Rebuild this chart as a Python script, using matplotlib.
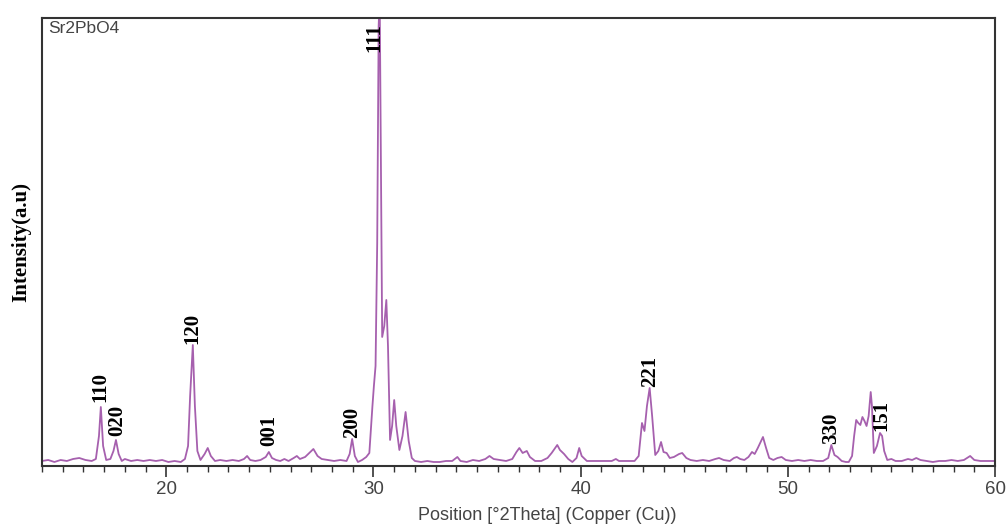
import matplotlib.pyplot as plt
from matplotlib.ticker import MultipleLocator

# Patrón XRD (2theta en grados, intensidad en unidades arbitrarias)
two_theta = [
    14.0, 14.3, 14.6, 14.9, 15.2, 15.5, 15.8, 16.1, 16.4, 16.6, 16.75, 16.84, 16.95, 17.1,
    17.3, 17.45, 17.57, 17.7, 17.85, 18.0, 18.3, 18.6, 18.9, 19.2, 19.5, 19.8, 20.1, 20.4,
    20.7, 20.9, 21.05, 21.15, 21.28, 21.38, 21.5, 21.65, 21.85, 22.0, 22.15, 22.35, 22.6,
    22.9, 23.2, 23.5, 23.75, 23.9, 24.05, 24.3, 24.55, 24.8, 24.95, 25.1, 25.3, 25.5, 25.7,
    25.9, 26.15, 26.3, 26.45, 26.7, 26.9, 27.1, 27.3, 27.5, 27.8, 28.1, 28.4, 28.7, 28.85,
    28.97, 29.1, 29.25, 29.45, 29.65, 29.8, 29.95, 30.02, 30.1, 30.18, 30.25, 30.3, 30.36,
    30.42, 30.52, 30.62, 30.7, 30.8, 30.9, 31.0, 31.1, 31.25, 31.4, 31.55, 31.7, 31.85,
    32.0, 32.3, 32.6, 32.9, 33.2, 33.5, 33.8, 34.05, 34.2, 34.5, 34.8, 35.1, 35.4, 35.6,
    35.8, 36.1, 36.4, 36.7, 36.9, 37.04, 37.2, 37.4, 37.55, 37.8, 38.1, 38.4, 38.6, 38.87,
    39.0, 39.2, 39.4, 39.6, 39.8, 39.93, 40.05, 40.3, 40.6, 40.9, 41.2, 41.5, 41.7, 41.85,
    42.1, 42.4, 42.6, 42.8, 42.96, 43.08, 43.2, 43.33, 43.45, 43.6, 43.75, 43.88, 44.0,
    44.15, 44.3, 44.5, 44.75, 44.9, 45.1, 45.3, 45.6, 45.9, 46.2, 46.5, 46.68, 46.9, 47.2,
    47.4, 47.54, 47.7, 47.9, 48.1, 48.27, 48.4, 48.55, 48.8, 48.95, 49.1, 49.3, 49.5, 49.7,
    49.9, 50.2, 50.5, 50.8, 51.1, 51.4, 51.7, 51.95, 52.1, 52.25, 52.4, 52.6, 52.8, 52.94,
    53.1, 53.2, 53.3, 53.4, 53.5, 53.6, 53.7, 53.8, 53.9, 54.0, 54.06, 54.15, 54.3, 54.45,
    54.55, 54.65, 54.8, 55.0, 55.2, 55.5, 55.8, 56.0, 56.2, 56.4, 56.7, 57.0, 57.3, 57.6,
    57.9, 58.2, 58.5, 58.8, 59.0, 59.3, 59.6, 60.0,
]
intensity = [
    5, 6, 4, 6, 5, 7, 8, 6, 5, 7, 30, 59, 20, 6,
    7, 15, 26, 12, 5, 7, 5, 6, 5, 6, 5, 6, 4, 5,
    4, 7, 20, 70, 121, 60, 15, 6, 12, 18, 10, 5, 6,
    5, 6, 5, 7, 10, 6, 5, 6, 9, 14, 8, 6, 5, 7,
    5, 8, 10, 7, 9, 13, 17, 10, 7, 6, 5, 6, 5, 12,
    27, 10, 4, 6, 9, 13, 60, 80, 100, 223, 440, 470, 300,
    129, 140, 166, 120, 26, 40, 66, 40, 16, 30, 54, 25, 8,
    5, 4, 5, 4, 4, 5, 5, 9, 5, 4, 6, 5, 7, 10,
    7, 6, 5, 7, 14, 18, 13, 15, 9, 5, 5, 8, 13, 21,
    16, 12, 7, 4, 8, 18, 10, 5, 5, 5, 5, 5, 7, 5,
    5, 5, 5, 10, 43, 35, 60, 78, 50, 11, 15, 24, 14,
    13, 8, 9, 12, 13, 8, 6, 5, 6, 5, 7, 8, 6, 5,
    8, 9, 7, 6, 9, 14, 12, 18, 29, 18, 8, 6, 8, 9,
    6, 5, 6, 5, 6, 5, 5, 8, 21, 11, 9, 5, 4, 4,
    10, 30, 46, 43, 41, 49, 45, 40, 50, 74, 60, 13, 20, 33,
    30, 15, 6, 7, 5, 5, 7, 6, 8, 6, 5, 4, 5, 5,
    6, 5, 6, 10, 6, 5, 5, 5,
]

# Índices de Miller y posición de cada etiqueta
hkl_labels = ["110", "020", "120", "001", "200", "111", "221", "330", "151"]
hkl_x = [16.84, 17.62, 21.28, 24.95, 28.97, 30.05, 43.33, 52.1, 54.5]
hkl_y = [64, 30, 122, 20, 28, 414, 79, 22, 35]

fig = plt.figure(figsize=(10.07, 5.25), dpi=100)
ax = fig.add_axes([0.0417, 0.1124, 0.9464, 0.8533])

ax.plot(two_theta, intensity, color="#a660ae", lw=1.3)

for lab, x, y in zip(hkl_labels, hkl_x, hkl_y):
    ax.text(x, y, lab, rotation=90, ha="center", va="bottom",
            family="Liberation Serif", fontweight="bold", fontsize=15)

ax.text(0.006, 0.993, "Sr2PbO4", transform=ax.transAxes, ha="left", va="top",
        family="Liberation Sans", fontsize=12.5, color="#444444")

ax.set_xlim(14, 60)
ax.set_ylim(0, 448)
ax.xaxis.set_major_locator(MultipleLocator(10))
ax.xaxis.set_minor_locator(MultipleLocator(1))
ax.tick_params(axis="x", which="major", length=8, width=1.2, color="#333333",
               labelsize=13.5, labelcolor="#444444", pad=3)
ax.tick_params(axis="x", which="minor", length=4, width=1, color="#333333")
for lbl in ax.get_xticklabels():
    lbl.set_family("Liberation Sans")
ax.set_yticks([])

for sp in ax.spines.values():
    sp.set_color("#333333")
    sp.set_linewidth(1.5)

ax.set_xlabel("Position [°2Theta] (Copper (Cu))", family="Liberation Sans",
              fontsize=13, color="#444444", labelpad=6, x=0.53)
ax.set_ylabel("Intensity(a.u)", family="Liberation Serif", fontweight="bold",
              fontsize=15, labelpad=8)

fig.savefig("out.png", dpi=100)
